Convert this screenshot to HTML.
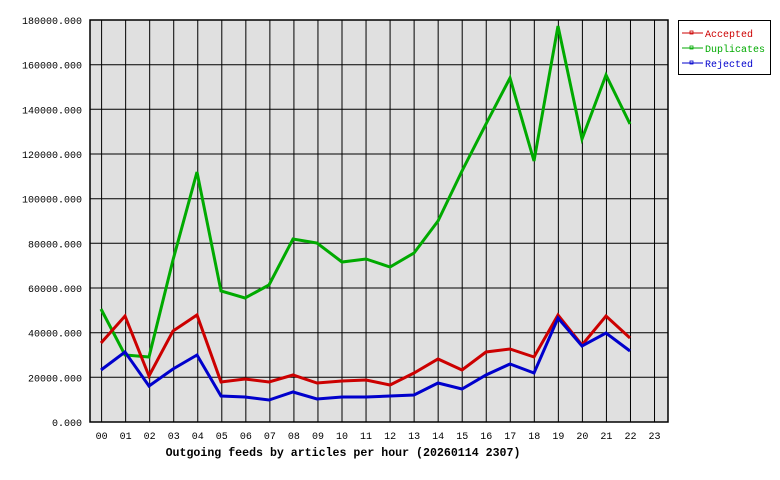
<!DOCTYPE html>
<html><head><style>body{margin:0;background:#fff}svg{display:block}</style></head><body>
<svg width="780" height="480" xmlns="http://www.w3.org/2000/svg" font-family="Liberation Mono, DejaVu Sans Mono, monospace" font-size="10">
<rect x="90" y="20" width="578" height="402" fill="#e0e0e0"/>
<g stroke="#000" stroke-width="1">
<line x1="90" y1="20" x2="668" y2="20"/><line x1="90" y1="64.7" x2="668" y2="64.7"/><line x1="90" y1="109.3" x2="668" y2="109.3"/><line x1="90" y1="154" x2="668" y2="154"/><line x1="90" y1="198.7" x2="668" y2="198.7"/><line x1="90" y1="243.3" x2="668" y2="243.3"/><line x1="90" y1="288" x2="668" y2="288"/><line x1="90" y1="332.7" x2="668" y2="332.7"/><line x1="90" y1="377.3" x2="668" y2="377.3"/>
</g>
<g stroke="#000" stroke-width="1" id="vg"></g>
<rect x="90" y="20" width="578" height="402" fill="none" stroke="#000" stroke-width="1.5"/>
<g text-anchor="end" fill="#000">
<text x="82" y="24">180000.000</text><text x="82" y="68.7">160000.000</text><text x="82" y="113.3">140000.000</text><text x="82" y="158">120000.000</text><text x="82" y="202.7">100000.000</text><text x="82" y="247.3">80000.000</text><text x="82" y="292">60000.000</text><text x="82" y="336.7">40000.000</text><text x="82" y="381.3">20000.000</text><text x="82" y="426">0.000</text>
</g>
<g id="xl" text-anchor="middle"></g>
<text x="343" y="456" text-anchor="middle" font-weight="bold" font-size="11.6">Outgoing feeds by articles per hour (20260114 2307)</text>
<polyline fill="none" stroke="#00aa00" stroke-width="3" points="101,309 125,355 149,357 173,260 197,172 221,291 245,298 269,285 293,239 317,243 342,262 366,259 390,267 414,253 438,221 462,171 486,124 510,78 534,161 558,26 582,139 606,75 630,124"/>
<polyline fill="none" stroke="#cc0000" stroke-width="3" points="101,343 125,316 149,376 173,331 197,315 221,382 245,379 269,382 293,375 317,383 342,381 366,380 390,385 414,373 438,359 462,370 486,352 510,349 534,357 558,315 582,345 606,316 630,338"/>
<polyline fill="none" stroke="#0000cc" stroke-width="3" points="101,370 125,352 149,386 173,369 197,355 221,396 245,397 269,400 293,392 317,399 342,397 366,397 390,396 414,395 438,383 462,389 486,375 510,364 534,373 558,318 582,346 606,333 630,351"/>
<rect x="678.5" y="20.5" width="92" height="54" fill="#fff" stroke="#000"/>
<line x1="682" y1="33" x2="703" y2="33" stroke="#cc0000"/><rect x="690" y="31" width="3" height="3" fill="none" stroke="#cc0000" stroke-width="0.8"/>
<line x1="682" y1="48" x2="703" y2="48" stroke="#00aa00"/><rect x="690" y="46" width="3" height="3" fill="none" stroke="#00aa00" stroke-width="0.8"/>
<line x1="682" y1="63" x2="703" y2="63" stroke="#0000cc"/><rect x="690" y="61" width="3" height="3" fill="none" stroke="#0000cc" stroke-width="0.8"/>
<text x="705" y="37" fill="#cc0000">Accepted</text>
<text x="705" y="52" fill="#00aa00">Duplicates</text>
<text x="705" y="67" fill="#0000cc">Rejected</text>
<script>
var g=document.getElementById('vg'),xl=document.getElementById('xl'),n='http://www.w3.org/2000/svg';
for(var i=0;i<24;i++){var x=101.6+i*24.04;var l=document.createElementNS(n,'line');l.setAttribute('x1',x);l.setAttribute('x2',x);l.setAttribute('y1',20);l.setAttribute('y2',422);g.appendChild(l);
var t=document.createElementNS(n,'text');t.setAttribute('x',x);t.setAttribute('y',439);t.textContent=(i<10?'0':'')+i;xl.appendChild(t);}
</script>
</svg>
</body></html>
